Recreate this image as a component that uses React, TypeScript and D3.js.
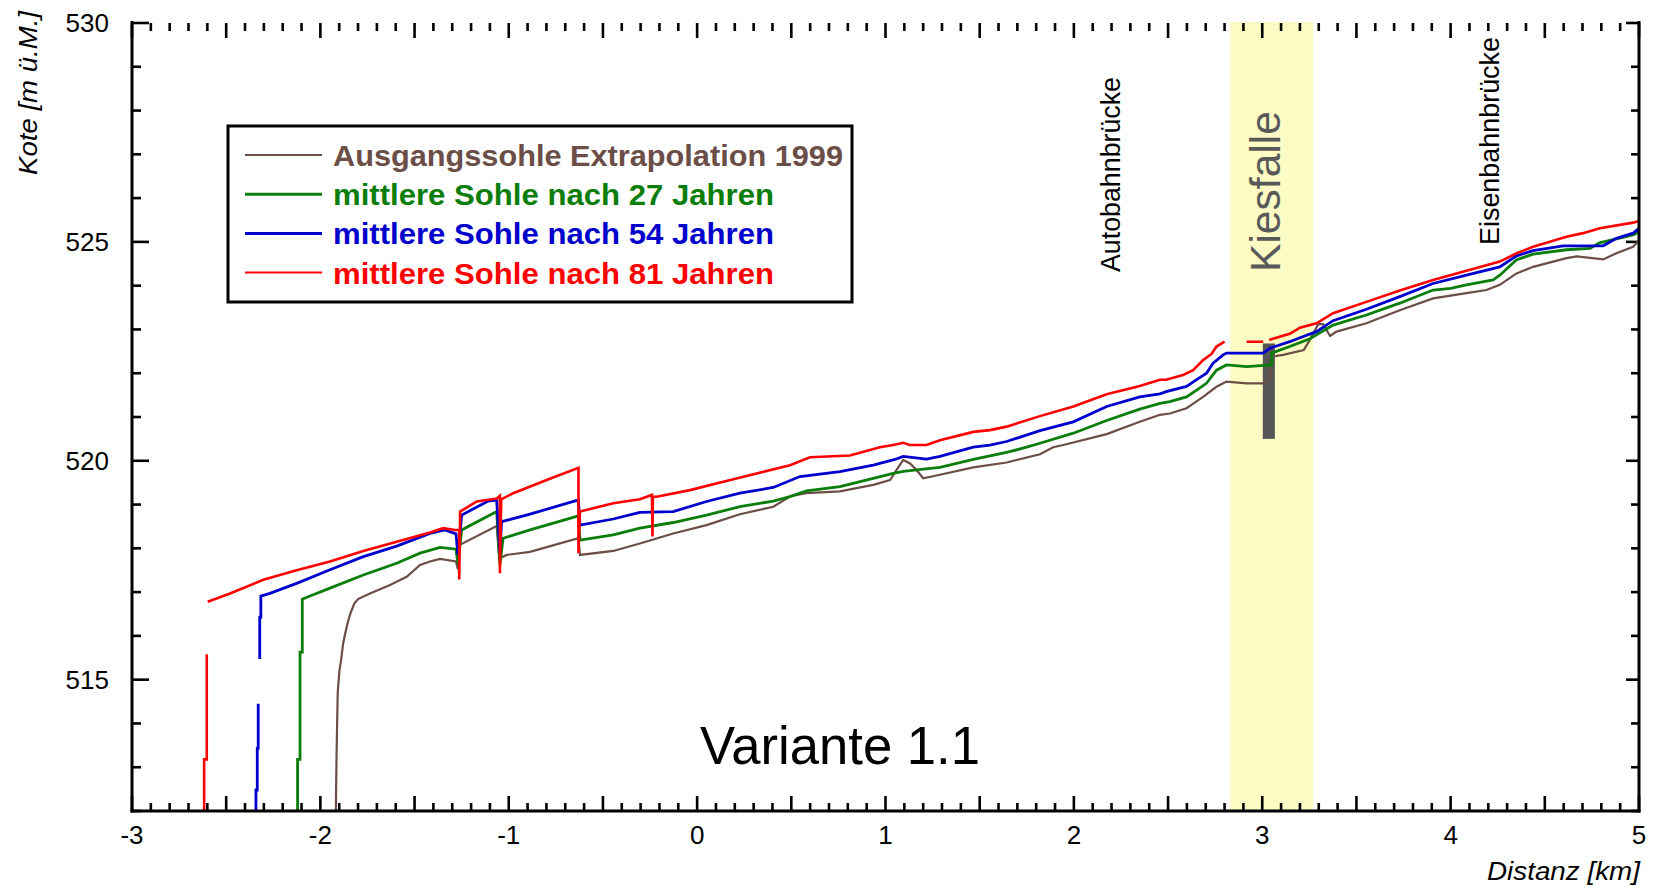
import React from "react";
import * as d3 from "d3";

type P = [number, number] | null;

// ---- data (km, m ü.M.) ; null = break in the line ----
const ausgangssohle: P[] = [
  [-1.918, 512.0], [-1.914, 513.3], [-1.908, 514.7], [-1.899, 515.2], [-1.89, 515.45], [-1.88, 515.8],
  [-1.87, 516.02], [-1.855, 516.3], [-1.84, 516.52], [-1.82, 516.74], [-1.8, 516.84], [-1.737, 516.97],
  [-1.63, 517.16], [-1.542, 517.35], [-1.471, 517.62], [-1.418, 517.7], [-1.365, 517.76], [-1.28, 517.7],
  [-1.27, 517.52], [-1.26, 518.08], [-1.064, 518.51], [-1.05, 517.77], [-1.01, 517.85], [-0.887, 517.92],
  [-0.63, 518.23], [-0.622, 517.85], [-0.445, 517.94], [-0.304, 518.11], [-0.127, 518.34], [0.05, 518.53],
  [0.227, 518.78], [0.404, 518.95], [0.5, 519.2], [0.581, 519.26], [0.758, 519.3], [0.935, 519.45],
  [1.024, 519.56], [1.059, 519.79], [1.094, 520.02], [1.13, 519.94], [1.165, 519.79], [1.2, 519.6],
  [1.289, 519.68], [1.466, 519.85], [1.643, 519.96], [1.82, 520.15], [1.89, 520.31], [1.944, 520.36],
  [2.174, 520.61], [2.35, 520.89], [2.457, 521.05], [2.51, 521.08], [2.598, 521.2], [2.686, 521.46],
  [2.757, 521.69], [2.81, 521.81], [2.917, 521.77], [3.005, 521.77], [3.04, 521.85], [3.05, 522.38],
  [3.111, 522.42], [3.22, 522.53], [3.253, 522.76], [3.297, 523.12], [3.323, 523.12], [3.36, 522.85],
  [3.394, 522.95], [3.553, 523.14], [3.73, 523.44], [3.907, 523.71], [4.084, 523.83], [4.19, 523.9],
  [4.261, 524.02], [4.35, 524.28], [4.438, 524.43], [4.615, 524.63], [4.67, 524.67], [4.81, 524.6],
  [4.88, 524.74], [4.969, 524.89], [5.0, 525.04],
];

const sohle27: P[] = [
  [-2.121, 512.0], [-2.121, 513.18], [-2.108, 513.18], [-2.108, 515.63], [-2.096, 515.63], [-2.096, 516.84],
  [-2.055, 516.91], [-1.949, 517.09], [-1.772, 517.39], [-1.595, 517.66], [-1.471, 517.89], [-1.365, 518.02],
  [-1.28, 517.98], [-1.27, 517.66], [-1.25, 518.42], [-1.064, 518.84], [-1.047, 517.62], [-1.03, 518.23],
  [-0.887, 518.42], [-0.63, 518.74], [-0.622, 518.19], [-0.445, 518.31], [-0.304, 518.46], [-0.127, 518.59],
  [0.05, 518.76], [0.227, 518.95], [0.404, 519.08], [0.493, 519.18], [0.581, 519.31], [0.758, 519.41],
  [0.935, 519.6], [1.041, 519.71], [1.094, 519.76], [1.165, 519.79], [1.289, 519.85], [1.466, 520.03],
  [1.643, 520.19], [1.749, 520.31], [1.82, 520.4], [1.997, 520.63], [2.174, 520.92], [2.35, 521.18],
  [2.457, 521.31], [2.51, 521.35], [2.598, 521.46], [2.65, 521.61], [2.704, 521.77], [2.757, 522.07],
  [2.81, 522.19], [2.917, 522.15], [3.05, 522.19], [3.05, 522.46], [3.146, 522.61], [3.25, 522.78],
  [3.376, 523.1], [3.553, 523.33], [3.73, 523.6], [3.907, 523.9], [4.0, 523.94], [4.084, 524.02],
  [4.226, 524.13], [4.261, 524.24], [4.35, 524.59], [4.438, 524.72], [4.615, 524.82], [4.74, 524.85],
  [4.79, 524.98], [4.969, 525.16], [5.0, 525.23],
];

const sohle54: P[] = [
  [-2.342, 512.0], [-2.342, 512.48], [-2.335, 512.48], [-2.335, 513.43], [-2.33, 513.43], [-2.33, 514.45],
  null,
  [-2.322, 515.47], [-2.322, 516.43], [-2.316, 516.43], [-2.316, 516.91], [-2.268, 516.97], [-2.126, 517.2],
  [-1.949, 517.51], [-1.772, 517.81], [-1.595, 518.05], [-1.418, 518.34], [-1.339, 518.42], [-1.28, 518.33],
  [-1.27, 517.85], [-1.25, 518.76], [-1.109, 519.08], [-1.064, 519.1], [-1.047, 517.9], [-1.038, 518.61],
  [-0.887, 518.78], [-0.652, 519.08], [-0.63, 519.1], [-0.622, 518.53], [-0.445, 518.67], [-0.304, 518.82],
  [-0.127, 518.84], [0.05, 519.07], [0.227, 519.26], [0.404, 519.39], [0.546, 519.64], [0.758, 519.75],
  [0.935, 519.9], [1.05, 520.03], [1.094, 520.1], [1.218, 520.04], [1.289, 520.1], [1.466, 520.31],
  [1.554, 520.36], [1.643, 520.44], [1.82, 520.69], [1.997, 520.89], [2.174, 521.24], [2.35, 521.46],
  [2.457, 521.53], [2.49, 521.58], [2.598, 521.7], [2.65, 521.85], [2.704, 522.0], [2.739, 522.23],
  [2.792, 522.42], [2.81, 522.46], [3.005, 522.46], [3.04, 522.57], [3.146, 522.72], [3.2, 522.81],
  [3.288, 522.95], [3.376, 523.2], [3.553, 523.46], [3.73, 523.75], [3.907, 524.05], [4.084, 524.24],
  [4.261, 524.43], [4.35, 524.68], [4.438, 524.8], [4.597, 524.91], [4.81, 524.91], [4.88, 525.08],
  [4.969, 525.2], [5.0, 525.31],
];

const sohle81: P[] = [
  [-2.617, 512.0], [-2.617, 513.18], [-2.603, 513.18], [-2.603, 515.58],
  null,
  [-2.598, 516.78], [-2.48, 516.97], [-2.303, 517.28], [-2.126, 517.5], [-1.949, 517.7], [-1.772, 517.94],
  [-1.595, 518.15], [-1.418, 518.36], [-1.347, 518.46], [-1.285, 518.42], [-1.263, 518.42], [-1.263, 517.29],
  [-1.258, 518.84], [-1.25, 518.86], [-1.17, 519.07], [-1.064, 519.14], [-1.047, 519.2], [-1.047, 517.43],
  [-1.04, 519.12], [-0.976, 519.26], [-0.799, 519.56], [-0.63, 519.84], [-0.63, 517.89], [-0.622, 518.84],
  [-0.445, 519.03], [-0.304, 519.12], [-0.24, 519.22], [-0.237, 518.27], [-0.235, 519.18], [-0.215, 519.18],
  [-0.038, 519.33], [0.139, 519.52], [0.316, 519.71], [0.493, 519.9], [0.599, 520.08], [0.811, 520.12],
  [0.97, 520.31], [1.041, 520.36], [1.094, 520.41], [1.129, 520.36], [1.218, 520.36], [1.289, 520.47],
  [1.466, 520.66], [1.554, 520.7], [1.643, 520.78], [1.82, 521.02], [1.997, 521.24], [2.174, 521.52],
  [2.35, 521.71], [2.457, 521.85], [2.49, 521.85], [2.58, 521.96], [2.633, 522.07], [2.686, 522.3],
  [2.731, 522.44], [2.757, 522.61], [2.8, 522.72],
  null,
  [2.917, 522.72], [3.005, 522.72],
  null,
  [3.037, 522.76], [3.146, 522.9], [3.2, 523.04], [3.288, 523.14], [3.376, 523.37], [3.553, 523.63],
  [3.73, 523.89], [3.81, 524.0], [3.907, 524.13], [4.084, 524.34], [4.261, 524.55], [4.35, 524.74],
  [4.438, 524.89], [4.615, 525.12], [4.703, 525.2], [4.792, 525.31], [4.969, 525.44], [5.0, 525.48],
];

const seriesNames = [
  "Ausgangssohle Extrapolation 1999",
  "mittlere Sohle nach 27 Jahren",
  "mittlere Sohle nach 54 Jahren",
  "mittlere Sohle nach 81 Jahren",
];
const seriesColors = ["#6b4e47", "#0a7d0a", "#0000cc", "#ff0000"];
const seriesWidths = [2.2, 2.8, 2.8, 2.6];
const seriesData = [ausgangssohle, sohle27, sohle54, sohle81];

const xTickLabels = [-3, -2, -1, 0, 1, 2, 3, 4, 5];
const yTickLabels = [515, 520, 525, 530];

const kiesfalleBand = [2.83, 3.27];
const kiesfalleBar = { x0: 3.003, x1: 3.067, y0: 520.5, y1: 522.68 };

const FONT = "'Liberation Sans', Arial, sans-serif";

export default function App() {
  const W = 1656, H = 888;
  const left = 132, right = 1639, top = 23, bottom = 811;
  const x = d3.scaleLinear().domain([-3, 5]).range([left, right]);
  const y = d3.scaleLinear().domain([512, 530]).range([bottom, top]);

  const line = d3
    .line<P>()
    .defined((d) => d !== null)
    .x((d) => x((d as [number, number])[0]))
    .y((d) => y((d as [number, number])[1]));

  const xMinor = x.ticks(80);
  const yMinor = y.ticks(18);
  const isMajorX = (v: number) => Math.abs(v * 2 - Math.round(v * 2)) < 1e-6;
  const isMajorY = (v: number) => Math.abs(v / 5 - Math.round(v / 5)) < 1e-6;

  return (
    <svg width={W} height={H} style={{ position: "absolute", left: 0, top: 0, background: "#fff" }} fontFamily={FONT}>
      <defs>
        <clipPath id="plot">
          <rect x={left} y={top} width={right - left} height={bottom - top} />
        </clipPath>
      </defs>
      <rect x={0} y={0} width={W} height={H} fill="#fff" />

      {/* Kiesfalle band */}
      <rect
        x={x(kiesfalleBand[0])}
        y={top - 1}
        width={x(kiesfalleBand[1]) - x(kiesfalleBand[0])}
        height={bottom - top + 1}
        fill="#fbfbc3"
      />
      <rect
        x={x(kiesfalleBar.x0)}
        y={y(kiesfalleBar.y1)}
        width={x(kiesfalleBar.x1) - x(kiesfalleBar.x0)}
        height={y(kiesfalleBar.y0) - y(kiesfalleBar.y1)}
        fill="#555555"
      />

      {/* ticks */}
      <g stroke="#000" strokeWidth={2.6}>
        {xMinor.map((v, i) => {
          const big = isMajorX(v);
          const xx = x(v);
          return (
            <g key={"xt" + i}>
              <line x1={xx} x2={xx} y1={bottom} y2={bottom - (big ? 15 : 8)} />
              <line x1={xx} x2={xx} y1={top} y2={top + (big ? 15 : 8)} />
            </g>
          );
        })}
        {yMinor.map((v, i) => {
          const big = isMajorY(v);
          const yy = y(v);
          return (
            <g key={"yt" + i}>
              <line x1={left} x2={left + (big ? 17 : 9)} y1={yy} y2={yy} />
              <line x1={right} x2={right - (big ? 13 : 8)} y1={yy} y2={yy} />
            </g>
          );
        })}
      </g>

      {/* data lines */}
      <g clipPath="url(#plot)" fill="none" strokeLinejoin="miter" strokeLinecap="butt">
        {seriesData.map((s, i) => (
          <path key={i} d={line(s) || ""} stroke={seriesColors[i]} strokeWidth={seriesWidths[i]} />
        ))}
      </g>

      {/* axis lines */}
      <line x1={left} x2={left} y1={top - 2} y2={bottom + 1.5} stroke="#000" strokeWidth={3} />
      <line x1={left - 1.5} x2={right + 1.5} y1={bottom} y2={bottom} stroke="#000" strokeWidth={3} />
      <line x1={right} x2={right} y1={top - 2} y2={bottom + 1.5} stroke="#000" strokeWidth={3} />

      {/* tick labels */}
      <g fontSize={26} fill="#000">
        {xTickLabels.map((v) => (
          <text key={"xl" + v} x={x(v)} y={844} textAnchor="middle">
            {v}
          </text>
        ))}
        {yTickLabels.map((v) => (
          <text key={"yl" + v} x={109} y={y(v) + 9} textAnchor="end">
            {v}
          </text>
        ))}
      </g>

      {/* axis titles */}
      <text
        transform={`translate(37, 175) rotate(-90)`}
        fontSize={26}
        fontStyle="italic"
        textLength={164}
        lengthAdjust="spacingAndGlyphs"
      >
        Kote [m ü.M.]
      </text>
      <text
        x={1640}
        y={880}
        fontSize={26}
        fontStyle="italic"
        textAnchor="end"
        textLength={153}
        lengthAdjust="spacingAndGlyphs"
      >
        Distanz [km]
      </text>

      {/* annotations */}
      <text
        transform={`translate(1120, 272) rotate(-90)`}
        fontSize={27}
        textLength={195}
        lengthAdjust="spacingAndGlyphs"
      >
        Autobahnbrücke
      </text>
      <text
        transform={`translate(1499, 245) rotate(-90)`}
        fontSize={27}
        textLength={208}
        lengthAdjust="spacingAndGlyphs"
      >
        Eisenbahnbrücke
      </text>
      <text
        transform={`translate(1280, 272) rotate(-90)`}
        fontSize={43}
        fill="#595959"
        textLength={161}
        lengthAdjust="spacingAndGlyphs"
      >
        Kiesfalle
      </text>
      <text x={700} y={764} fontSize={53} textLength={280} lengthAdjust="spacingAndGlyphs">
        Variante 1.1
      </text>

      {/* legend */}
      <rect x={228} y={126} width={624} height={176} fill="#fff" stroke="#000" strokeWidth={3} />
      {seriesNames.map((n, i) => {
        const cy = 155 + i * 39.2;
        return (
          <g key={"lg" + i}>
            <line x1={245} x2={322} y1={cy} y2={cy} stroke={seriesColors[i]} strokeWidth={i === 0 || i === 3 ? 2 : 3} />
            <text
              x={333}
              y={cy + 11}
              fontSize={30}
              fontWeight="bold"
              fill={seriesColors[i]}
              textLength={i === 0 ? 510 : 441}
              lengthAdjust="spacingAndGlyphs"
            >
              {n}
            </text>
          </g>
        );
      })}
    </svg>
  );
}
